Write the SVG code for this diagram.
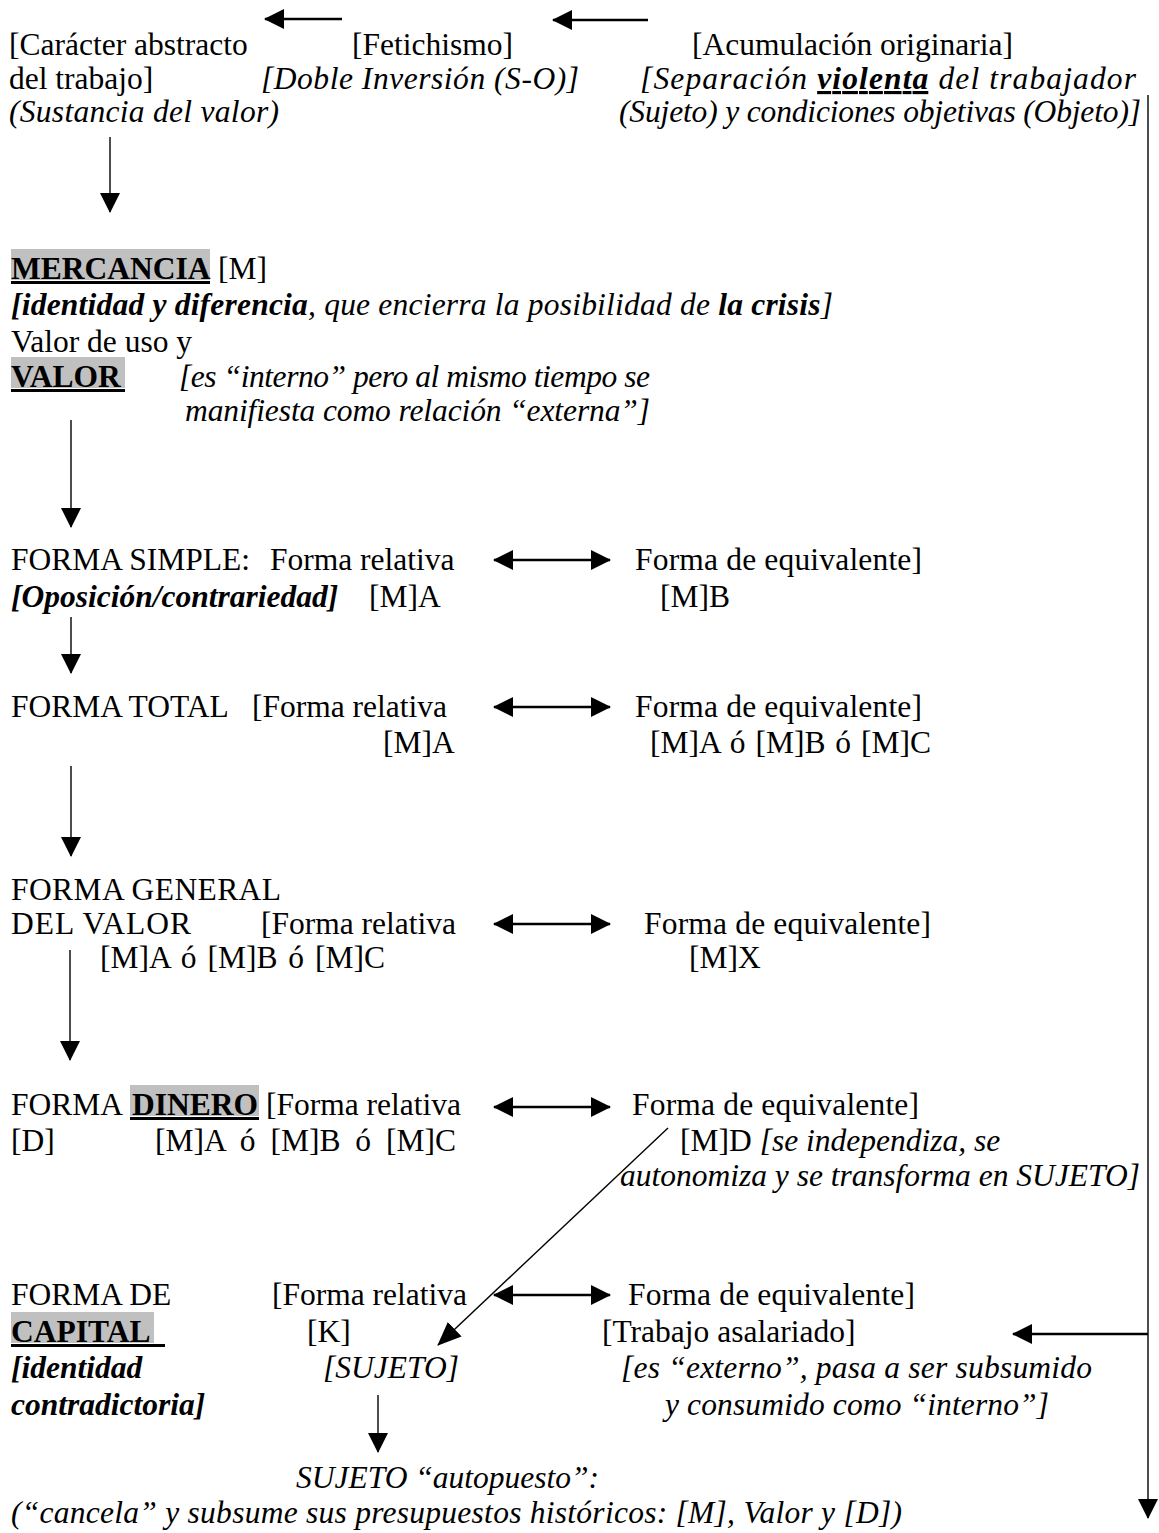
<svg xmlns="http://www.w3.org/2000/svg" width="1159" height="1533" viewBox="0 0 1159 1533">
<style>
text{font-family:"Liberation Serif","Times New Roman",serif;font-size:31.5px;fill:#000}
.i{font-style:italic}
.b{font-weight:bold}
.hl{fill:#c0c0c0}
.ul{fill:#000}
.c{stroke:#000;stroke-width:1.4;fill:none}
.w{stroke-width:2.4}
</style>
<defs>
<marker id="ah" viewBox="0 0 20 20" markerWidth="20" markerHeight="20" markerUnits="userSpaceOnUse" refX="19" refY="10" orient="auto-start-reverse">
<path d="M0,0 L20,10 L0,20 z" fill="#000"/>
</marker>
<marker id="ahl" viewBox="0 0 24 20" markerWidth="24" markerHeight="20" markerUnits="userSpaceOnUse" refX="23" refY="10" orient="auto">
<path d="M0,0 L24,10 L0,20 z" fill="#000"/>
</marker>
</defs>
<rect width="1159" height="1533" fill="#fff"/>

<g id="connectors">
<line class="c w" x1="342" y1="19" x2="265" y2="19" marker-end="url(#ah)"/>
<line class="c w" x1="648" y1="20" x2="553" y2="20" marker-end="url(#ah)"/>
<line class="c" x1="110" y1="137" x2="110" y2="212" marker-end="url(#ah)"/>
<line class="c" x1="71" y1="420" x2="71" y2="527" marker-end="url(#ah)"/>
<line class="c" x1="71" y1="617" x2="71" y2="673" marker-end="url(#ah)"/>
<line class="c" x1="71" y1="766" x2="71" y2="856" marker-end="url(#ah)"/>
<line class="c" x1="70" y1="950" x2="70" y2="1060" marker-end="url(#ah)"/>
<line class="c" x1="378" y1="1395" x2="378" y2="1452" marker-end="url(#ah)"/>
<line class="c" x1="668" y1="1128" x2="438" y2="1345" marker-end="url(#ahl)"/>
<line class="c" x1="1148" y1="95" x2="1148" y2="1518" marker-end="url(#ah)"/>
<line class="c w" x1="1148" y1="1334" x2="1013" y2="1334" marker-end="url(#ah)"/>
<line class="c w" x1="494" y1="560" x2="610" y2="560" marker-start="url(#ah)" marker-end="url(#ah)"/>
<line class="c w" x1="494" y1="707" x2="610" y2="707" marker-start="url(#ah)" marker-end="url(#ah)"/>
<line class="c w" x1="494" y1="924" x2="610" y2="924" marker-start="url(#ah)" marker-end="url(#ah)"/>
<line class="c w" x1="494" y1="1107" x2="610" y2="1107" marker-start="url(#ah)" marker-end="url(#ah)"/>
<line class="c w" x1="494" y1="1295" x2="610" y2="1295" marker-start="url(#ah)" marker-end="url(#ah)"/>
</g>

<g id="n-caracter">
<text x="9" y="55">[Carácter abstracto</text>
<text x="9" y="89">del trabajo]</text>
<text class="i" x="9" y="122" textLength="270" lengthAdjust="spacing">(Sustancia del valor)</text>
</g>

<g id="n-fetichismo">
<text x="352" y="55">[Fetichismo]</text>
<text class="i" x="261" y="89" textLength="318" lengthAdjust="spacing">[Doble Inversión (S-O)]</text>
</g>

<g id="n-acumulacion">
<text x="692" y="55">[Acumulación originaria]</text>
<text x="640" y="89" class="i" textLength="496" lengthAdjust="spacing">[Separación <tspan class="b" text-decoration="underline">violenta</tspan> del trabajador</text>
<text class="i" x="619" y="122" textLength="522" lengthAdjust="spacing">(Sujeto) y condiciones objetivas (Objeto)]</text>
</g>

<g id="n-mercancia">
<rect class="hl" x="11" y="249" width="199" height="31"/>
<text class="b" x="11" y="279">MERCANCIA</text>
<rect class="ul" x="11" y="281" width="199" height="3"/>
<text x="218" y="279">[M]</text>
<text class="i" x="11" y="315" textLength="822" lengthAdjust="spacing"><tspan class="b">[identidad y diferencia</tspan>, que encierra la posibilidad de <tspan class="b">la crisis</tspan>]</text>
<text x="11" y="352">Valor de uso y</text>
<rect class="hl" x="11" y="357" width="114" height="31"/>
<text class="b" x="11" y="387">VALOR</text>
<rect class="ul" x="11" y="389" width="114" height="3"/>
<text class="i" x="179" y="387" textLength="471" lengthAdjust="spacing">[es “interno” pero al mismo tiempo se</text>
<text class="i" x="185" y="421" textLength="465" lengthAdjust="spacing">manifiesta como relación “externa”]</text>
</g>

<g id="n-simple">
<text x="11" y="570">FORMA SIMPLE:</text>
<text x="270" y="570">Forma relativa</text>
<text x="635" y="570" textLength="287" lengthAdjust="spacing">Forma de equivalente]</text>
<text class="i b" x="11" y="607">[Oposición/contrariedad]</text>
<text x="369" y="607">[M]A</text>
<text x="660" y="607">[M]B</text>
</g>

<g id="n-total">
<text x="11" y="717">FORMA TOTAL</text>
<text x="252" y="717">[Forma relativa</text>
<text x="635" y="717" textLength="287" lengthAdjust="spacing">Forma de equivalente]</text>
<text x="383" y="753">[M]A</text>
<text x="650" y="753" style="word-spacing:2px">[M]A ó [M]B ó [M]C</text>
</g>

<g id="n-general">
<text x="11" y="900" textLength="270" lengthAdjust="spacing">FORMA GENERAL</text>
<text x="11" y="934" textLength="180" lengthAdjust="spacing">DEL VALOR</text>
<text x="261" y="934">[Forma relativa</text>
<text x="644" y="934" textLength="287" lengthAdjust="spacing">Forma de equivalente]</text>
<text x="100" y="968" style="word-spacing:3px">[M]A ó [M]B ó [M]C</text>
<text x="689" y="968">[M]X</text>
</g>

<g id="n-dinero">
<text x="11" y="1115">FORMA</text>
<rect class="hl" x="130" y="1085" width="129" height="31"/>
<text class="b" x="132" y="1115">DINERO</text>
<rect class="ul" x="130" y="1117" width="129" height="3"/>
<text x="266" y="1115">[Forma relativa</text>
<text x="632" y="1115" textLength="287" lengthAdjust="spacing">Forma de equivalente]</text>
<text x="11" y="1151">[D]</text>
<text x="155" y="1151" style="word-spacing:7px">[M]A ó [M]B ó [M]C</text>
<text x="680" y="1151">[M]D <tspan class="i">[se independiza, se</tspan></text>
<text class="i" x="620" y="1186" textLength="520" lengthAdjust="spacing">autonomiza y se transforma en SUJETO]</text>
</g>

<g id="n-capital">
<text x="11" y="1305">FORMA DE</text>
<text x="272" y="1305">[Forma relativa</text>
<text x="628" y="1305" textLength="287" lengthAdjust="spacing">Forma de equivalente]</text>
<rect class="hl" x="11" y="1312" width="143" height="31"/>
<text class="b" x="11" y="1342">CAPITAL</text>
<rect class="ul" x="11" y="1344" width="154" height="3"/>
<text x="307" y="1342">[K]</text>
<text x="602" y="1342">[Trabajo asalariado]</text>
<text class="i b" x="11" y="1378">[identidad</text>
<text class="i" x="323" y="1378">[SUJETO]</text>
<text class="i" x="621" y="1378" textLength="471" lengthAdjust="spacing">[es “externo”, pasa a ser subsumido</text>
<text class="i b" x="11" y="1415">contradictoria]</text>
<text class="i" x="665" y="1415" textLength="384" lengthAdjust="spacing">y consumido como “interno”]</text>
</g>

<g id="n-sujeto">
<text class="i" x="296" y="1488">SUJETO “autopuesto”:</text>
<text class="i" x="11" y="1523" textLength="891" lengthAdjust="spacing">(“cancela” y subsume sus presupuestos históricos: [M], Valor y [D])</text>
</g>
</svg>
